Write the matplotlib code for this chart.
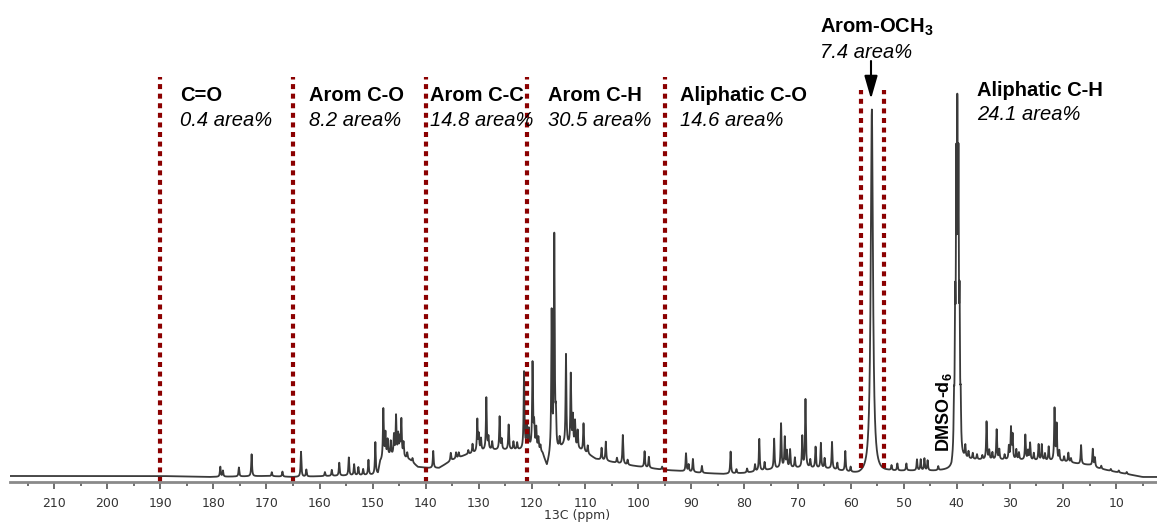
import numpy as np
import matplotlib
matplotlib.use("Agg")
from matplotlib import pyplot as plt

plt.rcParams["mathtext.default"] = "regular"

# baseline of the spectrum (ppm, intensity)
base_ppm = [218.3, 200, 190, 181, 170, 165, 158, 150, 149, 148.6, 147, 145, 143, 141.5, 139.5, 137.5,
            135, 132.5, 128.5, 124.5, 122, 119.5, 118, 117.2, 116.6, 114, 111, 109.5, 108, 105, 102, 98,
            95, 92, 88, 84, 80, 77, 73, 68, 64, 61, 58.5, 57, 55, 53, 49, 44, 41, 40.6, 38.5, 35, 28,
            23, 19, 17, 15, 13.5, 11, 8, 5, 2.3]
base_level = [6, 6, 6, 5, 6, 5, 6, 7, 8, 20, 26, 26, 22, 15, 14, 14,
              22, 27, 32, 32, 32, 34, 28, 15, 25, 36, 32, 28, 23, 20, 17, 14,
              12, 11, 9, 8, 9, 11, 14, 14, 13, 10, 7, 7, 8, 10, 11, 11, 12, 20, 22, 22, 22,
              21, 20, 18, 17, 14, 11, 8, 5, 5]

# resolved peaks (position, height above baseline)
peak_ppm = [178.7, 178.2, 175.2, 172.8, 169.0, 167.0, 163.5, 162.5, 159.0, 157.7, 156.3, 154.5,
            153.5, 152.7, 151.8, 150.8, 149.5,
            148.0, 147.6, 147.2, 146.6, 146.0, 145.6, 145.2, 144.9, 144.6, 144.2, 143.5, 142.5,
            138.6, 135.3, 134.3, 133.8, 132.0, 131.2, 130.3, 130.0, 129.6, 128.6, 128.2, 127.5,
            126.1, 125.7, 124.4, 123.5, 122.8, 121.5, 121.0, 120.6, 119.9, 119.6, 119.2, 118.8, 118.4,
            116.3, 115.8, 115.5, 114.8, 113.6, 112.7, 112.3, 111.9, 111.4, 110.3, 109.5,
            106.9, 106.1, 104.0, 102.9, 102.0, 98.8, 98.0, 95.5,
            91.0, 90.5, 89.7, 88.0, 82.6, 81.5, 79.5, 78.0, 77.2, 76.2, 74.4, 73.1, 72.4, 72.0,
            71.4, 70.5, 69.1, 68.5, 67.6, 66.6, 65.6, 64.9, 63.5, 62.5, 61.0, 60.0,
            52.3, 51.2, 49.5, 47.5, 46.8, 46.1, 45.5, 43.5,
            38.4, 37.8, 37.0, 36.2, 35.2, 34.4, 33.9, 33.3, 32.5, 32.0, 31.0, 30.2, 29.8, 29.5,
            28.8, 28.3, 27.1, 26.6, 26.2, 25.5, 24.6, 24.0, 23.4, 22.7, 21.6, 21.2, 20.7, 19.8,
            19.0, 18.5, 16.6, 14.4, 14.0, 12.8, 11.0, 9.5, 8.0]
peak_height = [10, 6, 9, 22, 4, 5, 25, 7, 4, 6, 13, 18,
               11, 8, 6, 15, 32,
               50, 24, 16, 14, 20, 39, 20, 16, 36, 14, 6, 4,
               17, 8, 6, 5, 4, 9, 32, 16, 12, 52, 12, 8,
               33, 10, 25, 8, 7, 77, 22, 18, 84, 22, 20, 12, 6,
               140, 214, 30, 10, 91, 72, 30, 26, 18, 28, 8,
               12, 19, 5, 29, 5, 16, 11, 3,
               18, 7, 13, 7, 22, 4, 4, 7, 32, 8, 30, 44, 30, 16,
               18, 10, 31, 68, 8, 21, 25, 10, 27, 7, 20, 5,
               5, 7, 7, 11, 11, 12, 10, 4,
               12, 7, 6, 5, 4, 38, 9, 7, 30, 10, 5, 13, 31, 24,
               10, 7, 25, 9, 17, 7, 16, 16, 7, 14, 52, 36, 10, 5,
               9, 4, 19, 17, 9, 3, 2, 2, 2]

# methoxy and DMSO-d6 signals
och3_ppm = 56.0
och3_height = 365
dmso_ppm = [39.27, 39.48, 39.69, 39.90, 40.11, 40.32, 40.53]
dmso_height = [42, 126, 252, 294, 252, 126, 42]

# integration regions
boundaries = [190, 165, 140, 121, 95]
och3_bounds = [58.1, 53.7]
regions = ["C=O", "Arom C-O", "Arom C-C", "Arom C-H", "Aliphatic C-O"]
areas = ["0.4 area%", "8.2 area%", "14.8 area%", "30.5 area%", "14.6 area%"]
region_px = [180, 309, 430, 548, 680]

W, H = 1157, 524
fig = plt.figure(figsize=(W / 100, H / 100), dpi=100)
ax = fig.add_axes([10 / W, 42 / H, 1147 / W, 482 / H])

x = np.linspace(218.3, 2.3, 24000)
y = np.interp(x, base_ppm[::-1], base_level[::-1])
for p, h in zip(peak_ppm, peak_height):
    w = 0.09
    y += h * w**2 / ((x - p)**2 + w**2)
w = 0.25
y += och3_height * w**2 / ((x - och3_ppm)**2 + w**2)
for p, h in zip(dmso_ppm, dmso_height):
    w = 0.08
    y += h * w**2 / ((x - p)**2 + w**2)

ax.plot(x, y, color="#3a3a3a", lw=1.3)

ax.vlines(boundaries, 0, 405, colors="#8B0000", lw=3, linestyles=(0, (1.2, 1.1)))
ax.vlines(och3_bounds, 14, 392, colors="#8B0000", lw=3, linestyles=(0, (1.2, 1.1)))

ax.set_xlim(218.3, 2.3)
ax.set_ylim(0, 482)
for s in ["top", "left", "right"]:
    ax.spines[s].set_visible(False)
ax.spines["bottom"].set_color("#8a8a8a")
ax.spines["bottom"].set_linewidth(2)
ax.set_yticks([])
ax.set_xticks(np.arange(10, 211, 10))
ax.set_xticks(np.arange(5, 216, 10), minor=True)
ax.tick_params(axis="x", which="major", length=5, width=1.2, color="#555555",
               labelsize=9, labelcolor="#333333", pad=6)
ax.tick_params(axis="x", which="minor", length=3, width=1.2, color="#555555")

fig.text(577 / W, 1 - 516 / H, "13C (ppm)", ha="center", va="center",
         fontsize=9, color="#333333")

txt = dict(family="Liberation Sans", fontsize=14.5, color="black")
for name, area, px in zip(regions, areas, region_px):
    fig.text(px / W, 1 - 101 / H, name, fontweight="bold", **txt)
    fig.text(px / W, 1 - 126 / H, area, style="italic", **txt)

fig.text(820 / W, 1 - 33 / H, "Arom-OCH$_3$", fontweight="bold", **txt)
fig.text(820 / W, 1 - 58 / H, "7.4 area%", style="italic", **txt)
fig.text(977 / W, 1 - 96 / H, "Aliphatic C-H", fontweight="bold", **txt)
fig.text(977 / W, 1 - 120 / H, "24.1 area%", style="italic", **txt)

fig.text(949 / W, 1 - 452 / H, "DMSO-d$_6$", rotation=90, rotation_mode="anchor",
         ha="left", va="baseline", family="Liberation Sans", fontsize=13,
         fontweight="bold", color="black")

ax.annotate("", xy=(871 / W, 1 - 99 / H), xytext=(871 / W, 1 - 61 / H),
            xycoords="figure fraction", textcoords="figure fraction",
            arrowprops=dict(arrowstyle="-|>,head_length=1.4,head_width=0.4",
                            color="black", lw=1.5, shrinkA=0, shrinkB=0))

fig.savefig("out.png", dpi=100)
